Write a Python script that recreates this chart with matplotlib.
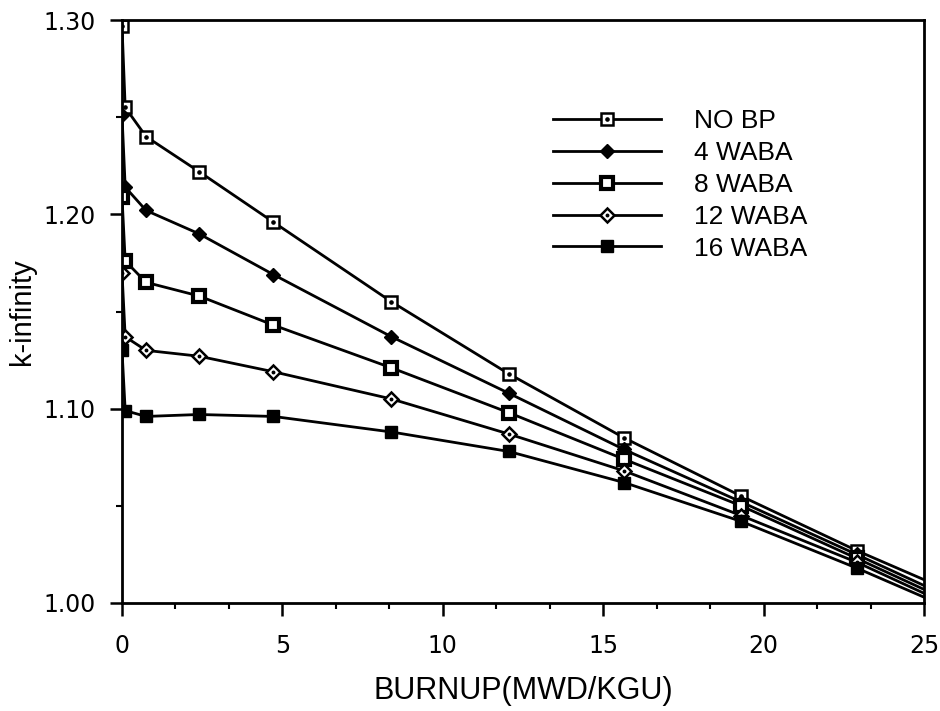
import matplotlib
matplotlib.use("Agg")
import matplotlib.pyplot as plt
from matplotlib.ticker import MultipleLocator, FormatStrFormatter

burnup = [0.0, 0.1, 0.75, 2.4, 4.72, 8.4, 12.05, 15.65, 19.3, 22.9, 25.0]

no_bp   = [1.297, 1.255, 1.240, 1.222, 1.196, 1.155, 1.118, 1.085, 1.055, 1.027, 1.012]
waba_4  = [1.251, 1.214, 1.202, 1.190, 1.169, 1.137, 1.108, 1.079, 1.052, 1.025, 1.009]
waba_8  = [1.209, 1.176, 1.165, 1.158, 1.143, 1.121, 1.098, 1.074, 1.050, 1.023, 1.007]
waba_12 = [1.170, 1.137, 1.130, 1.127, 1.119, 1.105, 1.087, 1.068, 1.045, 1.021, 1.005]
waba_16 = [1.130, 1.099, 1.096, 1.097, 1.096, 1.088, 1.078, 1.062, 1.042, 1.018, 1.003]

labels = ["NO BP", "4 WABA", "8 WABA", "12 WABA", "16 WABA"]

fig = plt.figure(figsize=(9.4, 7.11), dpi=100)
ax = fig.add_axes([122 / 940, 1 - 603 / 711, (924 - 122) / 940, (603 - 20) / 711])

marks = list(range(len(burnup) - 1))  # no marker where line meets right edge
lw = 2.0
handles = []

# NO BP: open square with dot
l1, = ax.plot(burnup, no_bp, color="black", lw=lw, marker="s", ms=8.5,
              mfc="white", mec="black", mew=1.8, markevery=marks)
d1, = ax.plot(burnup[:-1], no_bp[:-1], ls="none", marker="o", ms=2.3,
              color="black")
handles.append((l1, d1))

# 4 WABA: filled diamond
l2, = ax.plot(burnup, waba_4, color="black", lw=lw, marker="D", ms=7,
              mfc="black", mec="black", markevery=marks)
handles.append(l2)

# 8 WABA: heavy square with small white centre
l3, = ax.plot(burnup, waba_8, color="black", lw=lw, marker="s", ms=8.5,
              mfc="white", mec="black", mew=3.0, markevery=marks)
handles.append(l3)

# 12 WABA: open diamond with dot
l4, = ax.plot(burnup, waba_12, color="black", lw=lw, marker="D", ms=7,
              mfc="white", mec="black", mew=1.8, markevery=marks)
d4, = ax.plot(burnup[:-1], waba_12[:-1], ls="none", marker="o", ms=1.8,
              color="black")
handles.append((l4, d4))

# 16 WABA: filled square
l5, = ax.plot(burnup, waba_16, color="black", lw=lw, marker="s", ms=8.5,
              mfc="black", mec="black", markevery=marks)
handles.append(l5)

ax.set_xlim(0, 25)
ax.set_ylim(1.00, 1.30)
ax.xaxis.set_major_locator(MultipleLocator(5))
ax.xaxis.set_minor_locator(MultipleLocator(5 / 3))
ax.yaxis.set_major_locator(MultipleLocator(0.10))
ax.yaxis.set_minor_locator(MultipleLocator(0.05))
ax.yaxis.set_major_formatter(FormatStrFormatter("%.2f"))

ax.tick_params(which="major", direction="out", length=9, width=1.8,
               labelsize=17)
ax.tick_params(which="minor", direction="out", length=4.5, width=1.5)
ax.tick_params(axis="x", which="major", pad=13)
ax.tick_params(axis="y", which="major", pad=10)
for sp in ax.spines.values():
    sp.set_linewidth(2)

ax.set_xlabel("BURNUP(MWD/KGU)", fontsize=22, family="Liberation Sans",
              labelpad=13)
ax.set_ylabel("k-infinity", fontsize=21, family="Liberation Sans",
              labelpad=5)

ax.legend(handles, labels, loc="upper left",
          bbox_to_anchor=(553 / 940, 1 - 109 / 711),
          bbox_transform=fig.transFigure, frameon=False, borderpad=0,
          borderaxespad=0, handlelength=4.1, handletextpad=1.25,
          labelspacing=0.3, prop={"family": "Liberation Sans", "size": 19})

fig.savefig("out.png", dpi=100)
